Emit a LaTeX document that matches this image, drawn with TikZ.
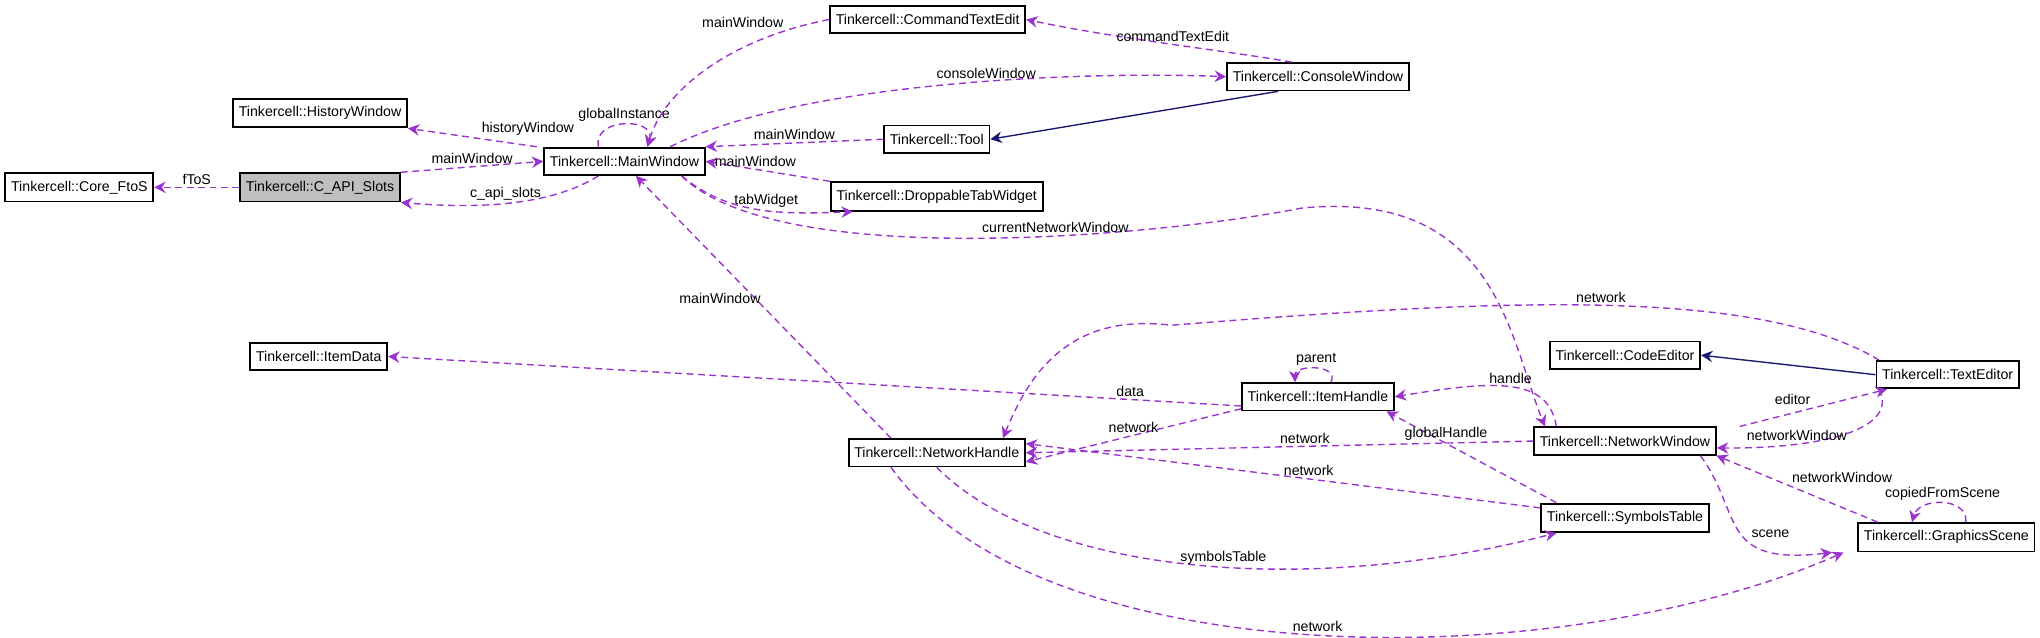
\documentclass[tikz,border=0pt]{standalone}
\usepackage{fontspec}
\setmainfont{Liberation Sans}
\usetikzlibrary{arrows.meta, positioning}
\definecolor{orchid}{HTML}{9A32CD}
\definecolor{midblue}{HTML}{191970}
\tikzset{
    cls/.style={draw, thick, fill=white, inner xsep=2.5pt, minimum height=0.42cm, font=\fontsize{6.2}{7}\selectfont},
    use/.style={draw=orchid, densely dashed, semithick, -{Stealth[length=5pt,width=5pt]}},
    isa/.style={draw=midblue, semithick, -{Stealth[length=5pt,width=5pt]}},
    lbl/.style={font=\fontsize{6.2}{7}\selectfont, inner sep=1pt}
}
\begin{document}
\begin{tikzpicture}[x=0.02cm, y=-0.02cm]
    \useasboundingbox (0,0) rectangle (1568,490);
    % classes
    \node[cls] (ftos) at (61,144) {Tinkercell::Core\_FtoS};
    \node[cls, fill=black!25] (capi) at (246,144) {Tinkercell::C\_API\_Slots};
    \node[cls] (hist) at (246,87) {Tinkercell::HistoryWindow};
    \node[cls] (main) at (480,124) {Tinkercell::MainWindow};
    \node[cls] (cmd) at (713,15) {Tinkercell::CommandTextEdit};
    \node[cls] (cons) at (1013,59) {Tinkercell::ConsoleWindow};
    \node[cls] (tool) at (720,107) {Tinkercell::Tool};
    \node[cls] (tabs) at (720,151) {Tinkercell::DroppableTabWidget};
    \node[cls] (idata) at (245,274) {Tinkercell::ItemData};
    \node[cls] (nethd) at (720,348) {Tinkercell::NetworkHandle};
    \node[cls] (ihand) at (1013,305) {Tinkercell::ItemHandle};
    \node[cls] (code) at (1249,273) {Tinkercell::CodeEditor};
    \node[cls] (text) at (1497,288) {Tinkercell::TextEditor};
    \node[cls] (netwin) at (1249,339) {Tinkercell::NetworkWindow};
    \node[cls] (symb) at (1249,398) {Tinkercell::SymbolsTable};
    \node[cls] (scene) at (1496,413) {Tinkercell::GraphicsScene};
    % inheritance
    \draw[isa] (cons.south west) ++(40,0) coordinate (c1) (c1) -- (tool.east);
    \draw[isa] (text.west) -- (code.east);
    % usage
    \draw[use] (capi) -- node[lbl, above] {fToS} (ftos);
    \draw[use] (capi.north east) -- node[lbl, above] {mainWindow} (main.west);
    \draw[use] (main.south) ++(-20,0) coordinate (m1) (m1) .. controls (420,160) and (360,160) .. node[lbl, above, pos=0.5] {c\_api\_slots} (capi.south east);
    \draw[use] (main.north west) ++(-5,0) coordinate (m2) (m2) -- node[lbl, above right, pos=0.45] {historyWindow} (hist.south east);
    \draw[use] (main.north) ++(-20,0) coordinate (m3) (m3) .. controls (455,90) and (505,90) .. node[lbl, above] {globalInstance} ([xshift=10]main.north);
    \draw[use] (cmd.west) .. controls (560,30) and (510,70) .. node[lbl, above left, pos=0.15] {mainWindow} ([xshift=10]main.north);
    \draw[use] ([xshift=20]main.north) .. controls (620,60) and (850,55) .. node[lbl, above, pos=0.55] {consoleWindow} (cons.west);
    \draw[use] (cons.north) ++(-20,0) coordinate (c2) (c2) .. controls (950,40) and (860,30) .. node[lbl, above] {commandTextEdit} (cmd.east);
    \draw[use] (tool.west) -- node[lbl, above, pos=0.5] {mainWindow} (main.north east);
    \draw[use] (tabs.north west) -- node[lbl, above, pos=0.6] {mainWindow} (main.east);
    \draw[use] ([xshift=25]main.south) .. controls (560,165) and (600,165) .. node[lbl, above, pos=0.55] {tabWidget} ([xshift=10]tabs.south west);
    \draw[use] ([xshift=25]main.south) .. controls (600,210) and (900,180) .. node[lbl, above, pos=0.6] {currentNetworkWindow} (1000,160) .. controls (1150,145) and (1160,260) .. ([xshift=-35]netwin.north);
    \draw[use] ([xshift=-20]nethd.north) -- node[lbl, above left, pos=0.5] {mainWindow} ([xshift=5]main.south);
    \draw[use] ([yshift=-4]ihand.west) -- node[lbl, above, pos=0.13] {data} (idata.east);
    \draw[use] (ihand.north) ++(10,0) coordinate (i1) (i1) .. controls (1030,280) and (995,280) .. node[lbl, above] {parent} ([xshift=-10]ihand.north);
    \draw[use] (ihand.south west) ++(0,-2) coordinate (i2) (i2) -- node[lbl, above, pos=0.5] {network} ([yshift=-4]nethd.east);
    \draw[use] ([xshift=-30]netwin.north) .. controls (1190,290) and (1150,292) .. node[lbl, above, pos=0.5] {handle} (ihand.east);
    \draw[use] (netwin.west) -- node[lbl, above, pos=0.45] {network} (nethd.east);
    \draw[use] (symb.north west) ++(0,4) coordinate (s1) (s1) -- node[lbl, above, pos=0.45] {network} ([yshift=4]nethd.east);
    \draw[use] ([xshift=-30]symb.north) -- node[lbl, above, pos=0.65] {globalHandle} ([xshift=30]ihand.south);
    \draw[use] (nethd.south) .. controls (800,440) and (1000,460) .. node[lbl, above, pos=0.55] {symbolsTable} ([xshift=-30]symb.south);
    \draw[use] ([xshift=-20]nethd.south) .. controls (800,520) and (1200,520) .. node[lbl, above, pos=0.5] {network} ([xshift=-45]scene.south);
    \draw[use] ([xshift=-30]text.north) .. controls (1350,220) and (1150,230) .. node[lbl, above, pos=0.5] {network} (900,250) .. controls (820,240) and (790,290) .. ([xshift=-10]nethd.north east);
    \draw[use] ([xshift=10]netwin.north east) -- node[lbl, above left, pos=0.5] {editor} ([xshift=5]text.south west);
    \draw[use] ([xshift=-30]text.south) .. controls (1460,330) and (1400,345) .. node[lbl, above, pos=0.72] {networkWindow} ([yshift=-3]netwin.east);
    \draw[use] ([xshift=-30]scene.north) -- node[lbl, above right, pos=0.55] {networkWindow} ([xshift=40]netwin.south);
    \draw[use] ([xshift=33]netwin.south) .. controls (1340,395) and (1320,435) .. node[lbl, above right, pos=0.6] {scene} ([xshift=-50]scene.south);
    \draw[use] (scene.north) ++(15,0) coordinate (g1) (g1) .. controls (1513,382) and (1475,382) .. node[lbl, above] {copiedFromScene} ([xshift=-15]scene.north);
\end{tikzpicture}
\end{document}
